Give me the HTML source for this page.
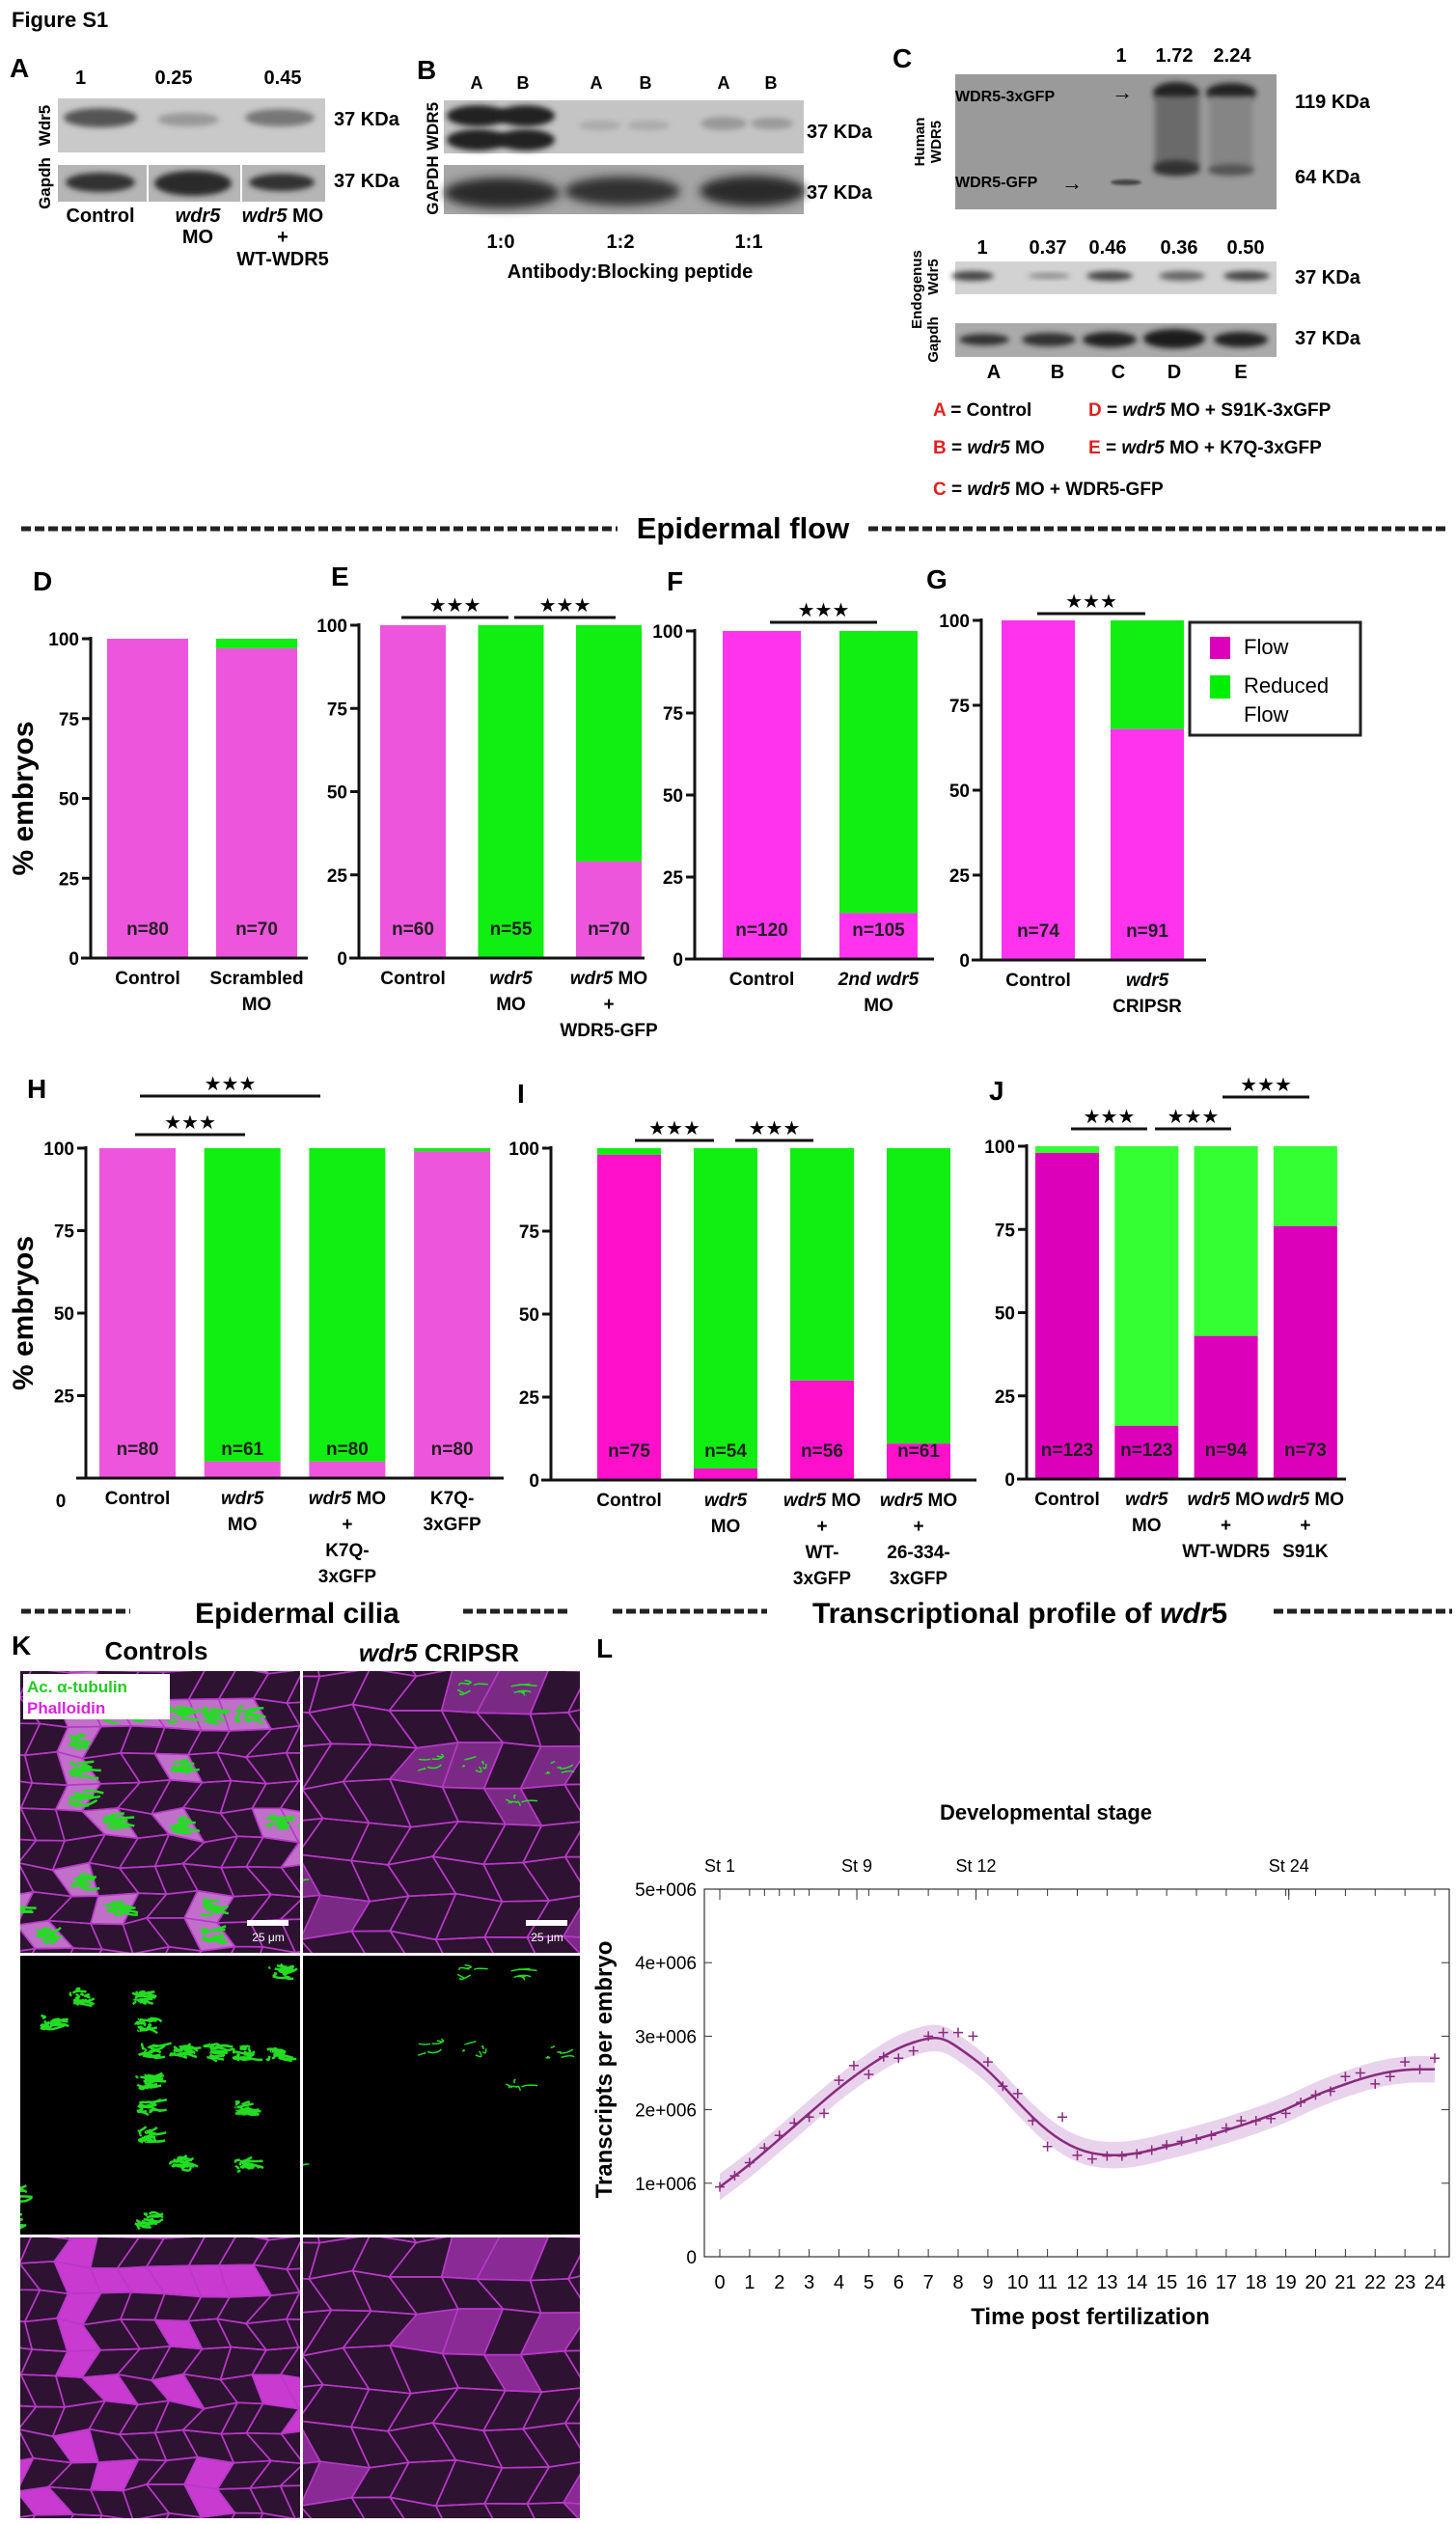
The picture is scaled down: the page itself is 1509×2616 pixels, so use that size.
<!DOCTYPE html>
<html><head><meta charset="utf-8">
<style>
html,body{margin:0;padding:0;background:#fff;}
svg{display:block;font-family:"Liberation Sans",sans-serif;}
.t{font-weight:bold;}
</style></head>
<body>
<svg id="root" width="1509" height="2616" viewBox="0 0 1509 2616" xmlns="http://www.w3.org/2000/svg">
<defs>
<filter id="blur3" x="-50%" y="-50%" width="200%" height="200%"><feGaussianBlur stdDeviation="3"/></filter>
<filter id="blur5" x="-50%" y="-50%" width="200%" height="200%"><feGaussianBlur stdDeviation="5"/></filter>
<filter id="blur1" x="-50%" y="-50%" width="200%" height="200%"><feGaussianBlur stdDeviation="1.2"/></filter>
</defs>
<text x="12" y="28" font-size="22" class="t">Figure S1</text>

<!-- Panel A -->
<g font-weight="bold">
<text x="10" y="80" font-size="28">A</text>
<text x="78" y="87" font-size="20">1</text>
<text x="180" y="87" font-size="20" text-anchor="middle">0.25</text>
<text x="293" y="87" font-size="20" text-anchor="middle">0.45</text>
<rect x="60" y="102" width="277" height="56" fill="#c9c9c9"/>
<ellipse cx="104" cy="122" rx="38" ry="10" fill="#555" filter="url(#blur3)"/>
<ellipse cx="195" cy="124" rx="32" ry="7" fill="#999" filter="url(#blur3)"/>
<ellipse cx="290" cy="122" rx="36" ry="9" fill="#777" filter="url(#blur3)"/>
<rect x="60" y="171" width="277" height="38" fill="#b5b5b5"/>
<ellipse cx="104" cy="189" rx="36" ry="10" fill="#333" filter="url(#blur3)"/>
<ellipse cx="200" cy="190" rx="40" ry="13" fill="#2a2a2a" filter="url(#blur3)"/>
<ellipse cx="292" cy="189" rx="34" ry="9" fill="#333" filter="url(#blur3)"/>
<line x1="153" y1="171" x2="153" y2="209" stroke="#fff" stroke-width="2"/>
<line x1="250" y1="171" x2="250" y2="209" stroke="#fff" stroke-width="2"/>
<text transform="translate(52,130) rotate(-90)" font-size="17" text-anchor="middle">Wdr5</text>
<text transform="translate(52,190) rotate(-90)" font-size="17" text-anchor="middle">Gapdh</text>
<text x="346" y="130" font-size="20">37 KDa</text>
<text x="346" y="194" font-size="20">37 KDa</text>
<text x="104" y="230" font-size="20" text-anchor="middle">Control</text>
<text x="205" y="230" font-size="20" text-anchor="middle"><tspan font-style="italic">wdr5</tspan></text>
<text x="205" y="252" font-size="20" text-anchor="middle">MO</text>
<text x="293" y="230" font-size="20" text-anchor="middle"><tspan font-style="italic">wdr5</tspan> MO</text>
<text x="293" y="252" font-size="20" text-anchor="middle">+</text>
<text x="293" y="275" font-size="20" text-anchor="middle">WT-WDR5</text>
</g>

<!-- Panel B -->
<g font-weight="bold">
<text x="432" y="82" font-size="28">B</text>
<g font-size="18" text-anchor="middle">
<text x="494" y="92">A</text><text x="542" y="92">B</text><text x="618" y="92">A</text><text x="669" y="92">B</text><text x="750" y="92">A</text><text x="799" y="92">B</text>
</g>
<rect x="460" y="104" width="373" height="55" fill="#c4c4c4"/>
<ellipse cx="495" cy="120" rx="32" ry="11" fill="#222" filter="url(#blur3)"/>
<ellipse cx="495" cy="145" rx="32" ry="11" fill="#222" filter="url(#blur3)"/>
<ellipse cx="545" cy="120" rx="30" ry="11" fill="#222" filter="url(#blur3)"/>
<ellipse cx="545" cy="145" rx="30" ry="11" fill="#222" filter="url(#blur3)"/>
<ellipse cx="622" cy="130" rx="22" ry="5" fill="#aaa" filter="url(#blur3)"/>
<ellipse cx="672" cy="130" rx="22" ry="5" fill="#aaa" filter="url(#blur3)"/>
<ellipse cx="750" cy="128" rx="24" ry="7" fill="#999" filter="url(#blur3)"/>
<ellipse cx="800" cy="128" rx="22" ry="6" fill="#999" filter="url(#blur3)"/>
<rect x="460" y="171" width="373" height="51" fill="#a5a5a5"/>
<ellipse cx="520" cy="200" rx="60" ry="16" fill="#2a2a2a" filter="url(#blur5)"/>
<ellipse cx="645" cy="198" rx="60" ry="15" fill="#333" filter="url(#blur5)"/>
<ellipse cx="780" cy="198" rx="55" ry="16" fill="#2a2a2a" filter="url(#blur5)"/>
<text transform="translate(454,131) rotate(-90)" font-size="17" text-anchor="middle">WDR5</text>
<text transform="translate(454,192) rotate(-90)" font-size="17" text-anchor="middle">GAPDH</text>
<text x="836" y="143" font-size="20">37 KDa</text>
<text x="836" y="206" font-size="20">37 KDa</text>
<text x="519" y="257" font-size="20" text-anchor="middle">1:0</text>
<text x="643" y="257" font-size="20" text-anchor="middle">1:2</text>
<text x="776" y="257" font-size="20" text-anchor="middle">1:1</text>
<text x="653" y="288" font-size="20" text-anchor="middle">Antibody:Blocking peptide</text>
</g>

<!-- Panel C -->
<g font-weight="bold">
<text x="925" y="70" font-size="28">C</text>
<text x="1162" y="64" font-size="20" text-anchor="middle">1</text>
<text x="1217" y="64" font-size="20" text-anchor="middle">1.72</text>
<text x="1277" y="64" font-size="20" text-anchor="middle">2.24</text>
<rect x="990" y="77" width="333" height="140" fill="#9a9a9a"/>
<ellipse cx="1219" cy="96" rx="24" ry="11" fill="#222" filter="url(#blur3)"/>
<ellipse cx="1276" cy="96" rx="26" ry="10" fill="#222" filter="url(#blur3)"/>
<rect x="1197" y="100" width="46" height="80" fill="#6a6a6a" filter="url(#blur3)"/>
<rect x="1254" y="100" width="44" height="80" fill="#858585" filter="url(#blur3)"/>
<ellipse cx="1219" cy="174" rx="24" ry="8" fill="#333" filter="url(#blur3)"/>
<ellipse cx="1276" cy="176" rx="24" ry="6" fill="#555" filter="url(#blur3)"/>
<ellipse cx="1167" cy="189" rx="16" ry="3" fill="#444" filter="url(#blur1)"/>
<text x="990" y="105" font-size="16">WDR5-3xGFP</text>
<text x="990" y="194" font-size="16">WDR5-GFP</text>
<text x="1152" y="103" font-size="22">→</text>
<text x="1100" y="197" font-size="22">→</text>
<text transform="translate(958,147) rotate(-90)" font-size="15" text-anchor="middle">Human</text>
<text transform="translate(975,147) rotate(-90)" font-size="15" text-anchor="middle">WDR5</text>
<text x="1342" y="112" font-size="20">119 KDa</text>
<text x="1342" y="190" font-size="20">64 KDa</text>
<g font-size="20" text-anchor="middle">
<text x="1018" y="263">1</text><text x="1086" y="263">0.37</text><text x="1148" y="263">0.46</text><text x="1222" y="263">0.36</text><text x="1291" y="263">0.50</text>
</g>
<rect x="990" y="271" width="333" height="34" fill="#d2d2d2"/>
<ellipse cx="1008" cy="286" rx="22" ry="5" fill="#444" filter="url(#blur3)"/>
<ellipse cx="1087" cy="286" rx="22" ry="3" fill="#888" filter="url(#blur3)"/>
<ellipse cx="1150" cy="286" rx="24" ry="5" fill="#444" filter="url(#blur3)"/>
<ellipse cx="1225" cy="286" rx="24" ry="5" fill="#666" filter="url(#blur3)"/>
<ellipse cx="1292" cy="286" rx="24" ry="5" fill="#444" filter="url(#blur3)"/>
<rect x="990" y="335" width="333" height="35" fill="#aaa"/>
<ellipse cx="1020" cy="352" rx="26" ry="6" fill="#333" filter="url(#blur3)"/>
<ellipse cx="1087" cy="352" rx="28" ry="7" fill="#333" filter="url(#blur3)"/>
<ellipse cx="1150" cy="352" rx="28" ry="8" fill="#222" filter="url(#blur3)"/>
<ellipse cx="1217" cy="351" rx="32" ry="10" fill="#1a1a1a" filter="url(#blur3)"/>
<ellipse cx="1286" cy="352" rx="28" ry="8" fill="#222" filter="url(#blur3)"/>
<text transform="translate(955,300) rotate(-90)" font-size="15" text-anchor="middle">Endogenus</text>
<text transform="translate(972,287) rotate(-90)" font-size="15" text-anchor="middle">Wdr5</text>
<text transform="translate(972,352) rotate(-90)" font-size="15" text-anchor="middle">Gapdh</text>
<text x="1342" y="294" font-size="20">37 KDa</text>
<text x="1342" y="357" font-size="20">37 KDa</text>
<g font-size="20" text-anchor="middle">
<text x="1030" y="392">A</text><text x="1096" y="392">B</text><text x="1159" y="392">C</text><text x="1217" y="392">D</text><text x="1286" y="392">E</text>
</g>
<g font-size="19">
<text x="967" y="431"><tspan fill="#e02020">A</tspan> = Control</text>
<text x="967" y="470"><tspan fill="#e02020">B</tspan> = <tspan font-style="italic">wdr5</tspan> MO</text>
<text x="967" y="513"><tspan fill="#e02020">C</tspan> = <tspan font-style="italic">wdr5</tspan> MO + WDR5-GFP</text>
<text x="1128" y="431"><tspan fill="#e02020">D</tspan> = <tspan font-style="italic">wdr5</tspan> MO + S91K-3xGFP</text>
<text x="1128" y="470"><tspan fill="#e02020">E</tspan> = <tspan font-style="italic">wdr5</tspan> MO + K7Q-3xGFP</text>
</g>
</g>

<!-- Section headers -->
<g stroke="#222" stroke-width="5" stroke-dasharray="10,4">
<line x1="22" y1="548" x2="640" y2="548"/>
<line x1="900" y1="548" x2="1500" y2="548"/>
<line x1="22" y1="1670" x2="135" y2="1670"/>
<line x1="480" y1="1670" x2="592" y2="1670"/>
<line x1="635" y1="1670" x2="795" y2="1670"/>
<line x1="1320" y1="1670" x2="1505" y2="1670"/>
</g>
<text x="770" y="558" font-size="31" class="t" text-anchor="middle">Epidermal flow</text>
<text x="308" y="1682" font-size="30" class="t" text-anchor="middle">Epidermal cilia</text>
<text x="1057" y="1682" font-size="30" class="t" text-anchor="middle">Transcriptional profile of <tspan font-style="italic">wdr</tspan>5</text>

<g id="bars"></g>

<!-- legend -->
<g>
<rect x="1233" y="645" width="177" height="117" fill="#fff" stroke="#222" stroke-width="3"/>
<rect x="1254" y="660" width="21" height="23" fill="#dd00bb"/>
<rect x="1254" y="700" width="21" height="24" fill="#00ee00"/>
<text x="1289" y="678" font-size="22">Flow</text>
<text x="1289" y="718" font-size="22">Reduced</text>
<text x="1289" y="748" font-size="22">Flow</text>
</g>

<!-- K -->
<text x="12" y="1715" font-size="28" class="t">K</text>
<text x="162" y="1720" font-size="26" class="t" text-anchor="middle">Controls</text>
<text x="455" y="1722" font-size="26" class="t" text-anchor="middle"><tspan font-style="italic">wdr5</tspan> CRIPSR</text>
<g id="micro"></g>

<!-- L -->
<text x="618" y="1718" font-size="28" class="t">L</text>
<g id="lchart"></g>
</svg>

<script>
const NS="http://www.w3.org/2000/svg";
function mk(tag,attrs,parent){const e=document.createElementNS(NS,tag);for(const k in attrs)e.setAttribute(k,attrs[k]);(parent||document.getElementById('root')).appendChild(e);return e;}

/* ---------- Flow bar chart data ---------- */
const catsD=["Control","Scrambled|MO"];
const flowD=[100,97];
const nD=["n=80","n=70"];
const catsE=["Control","<i>wdr5</i>|MO","<i>wdr5</i> MO|+|WDR5-GFP"];
const flowE=[100,0,29];
const nE=["n=60","n=55","n=70"];
const catsF=["Control","<i>2nd wdr5</i>|MO"];
const flowF=[100,14];
const nF=["n=120","n=105"];
const catsG=["Control","<i>wdr5</i>|CRIPSR"];
const flowG=[100,68];
const nG=["n=74","n=91"];
const catsH=["Control","<i>wdr5</i>|MO","<i>wdr5</i> MO|+|K7Q-|3xGFP","K7Q-|3xGFP"];
const flowH=[100,5,5,99];
const nH=["n=80","n=61","n=80","n=80"];
const catsI=["Control","<i>wdr5</i>|MO","<i>wdr5</i> MO|+|WT-|3xGFP","<i>wdr5</i> MO|+|26-334-|3xGFP"];
const flowI=[98,3.5,30,11];
const nI=["n=75","n=54","n=56","n=61"];
const catsJ=["Control","<i>wdr5</i>|MO","<i>wdr5</i> MO|+|WT-WDR5","<i>wdr5</i> MO|+|S91K"];
const flowJ=[98,16,43,76];
const nJ=["n=123","n=123","n=94","n=73"];
const yTicks=[0,25,50,75,100];

const charts=[
 {id:"d",label:"D",cats:catsD,flow:flowD,n:nD,ax:94,y0:993,y100:662,bx:111,bw:84,step:113,end:319,mag:"#ee55dd",grn:"#11ee11",lx:34,ly:612,sig:[],ylab:true},
 {id:"e",label:"E",cats:catsE,flow:flowE,n:nE,ax:372,y0:993,y100:648,bx:394,bw:68,step:101.5,end:668,mag:"#ee55dd",grn:"#11ee11",lx:343,ly:607,sig:[[0,1,640,416,527],[1,2,640,533,638]]},
 {id:"f",label:"F",cats:catsF,flow:flowF,n:nF,ax:720,y0:994,y100:654,bx:749,bw:81,step:121,end:968,mag:"#ff33ee",grn:"#11ee11",lx:691,ly:612,sig:[[0,1,645,798,909]]},
 {id:"g",label:"G",cats:catsG,flow:flowG,n:nG,ax:1017,y0:995,y100:643,bx:1038,bw:76,step:113,end:1250,mag:"#ff33ee",grn:"#11ee11",lx:960,ly:610,sig:[[0,1,636,1075,1187]]},
 {id:"h",label:"H",cats:catsH,flow:flowH,n:nH,ax:89,y0:1532,y100:1190,bx:103,bw:79,step:108.7,end:522,mag:"#ee55dd",grn:"#11ee11",lx:28,ly:1138,sig:[[0,2,1136,145,332],[0,1,1176,140,254]],ylab:true,hzero:true},
 {id:"i",label:"I",cats:catsI,flow:flowI,n:nI,ax:571,y0:1534,y100:1190,bx:619,bw:66,step:100,end:1012,mag:"#ff11cc",grn:"#11ee11",lx:536,ly:1143,sig:[[0,1,1182,658,740],[1,2,1182,762,843]]},
 {id:"j",label:"J",cats:catsJ,flow:flowJ,n:nJ,ax:1064,y0:1533,y100:1188,bx:1073,bw:66,step:82.3,end:1395,mag:"#dd00bb",grn:"#33ff33",lx:1025,ly:1140,sig:[[0,1,1170,1110,1189],[1,2,1170,1197,1276],[2,3,1137,1267,1357]]}
];
const barsG=document.getElementById('bars');
function lineHTML(s){return s.replace(/<i>/g,'<tspan font-style="italic">').replace(/<\/i>/g,'</tspan>');}
charts.forEach(c=>{
 const g=mk('g',{},barsG);
 
 
 const Y=v=>c.y0-(c.y0-c.y100)*v/100;
 const X=i=>c.bx+i*c.step;
 const lab=mk('text',{x:c.lx,y:c.ly,'font-size':28,'font-weight':'bold'},g);lab.textContent=c.label;
 
 
 c.cats.forEach((cat,i)=>{
  const fh=c.flow[i];
  const gr=mk('rect',{x:X(i),y:Y(100),width:c.bw,height:Y(fh)-Y(100),fill:c.grn},g);
  
  
  const mr=mk('rect',{x:X(i),y:Y(fh),width:c.bw,height:c.y0-Y(fh),fill:c.mag},g);
  
  
  const nt=mk('text',{x:X(i)+c.bw/2,y:c.y0-24,'font-size':19,'font-weight':'bold','text-anchor':'middle',fill:'#222'},g);
  nt.textContent=c.n[i];
  
  
  cat.split('|').forEach((ln,k)=>{
   const t=mk('text',{x:X(i)+c.bw/2,y:c.y0+27+k*27,'font-size':19,'font-weight':'bold','text-anchor':'middle'},g);
   t.innerHTML=lineHTML(ln);
   
   
  });
 });
 mk('line',{x1:c.ax,y1:c.y100-2,x2:c.ax,y2:c.y0,stroke:'#111','stroke-width':3},g);
 mk('line',{x1:c.ax-10,y1:c.y0,x2:c.end,y2:c.y0,stroke:'#111','stroke-width':3},g);
 yTicks.forEach(v=>{
  mk('line',{x1:c.ax-9,y1:Y(v),x2:c.ax,y2:Y(v),stroke:'#111','stroke-width':3},g);
  if(c.hzero&&v===0){const z=mk('text',{x:63,y:1562,'font-size':19,'font-weight':'bold','text-anchor':'middle'},g);z.textContent='0';return;}
  const t=mk('text',{x:c.ax-12,y:Y(v)+7,'font-size':19,'font-weight':'bold','text-anchor':'end'},g);
  t.textContent=v;
  
  
 });
 c.sig.forEach(s=>{
  mk('line',{x1:s[3],y1:s[2],x2:s[4],y2:s[2],stroke:'#111','stroke-width':3},g);
  const st=mk('text',{x:(s[3]+s[4])/2,y:s[2]-6,'font-size':20,'text-anchor':'middle'},g);
  st.textContent='★★★';
  
  
 });
 if(c.ylab){
  const cy=(c.y0+c.y100)/2;
  const t=mk('text',{transform:`translate(34,${cy}) rotate(-90)`,'font-size':30,'font-weight':'bold','text-anchor':'middle'},g);
  t.textContent='% embryos';
  
  
 }
});

/* ---------- Micrographs (decorative texture) ---------- */
let seed=7;function rnd(){seed=(seed*16807)%2147483647;return seed/2147483647;}
const micro=document.getElementById('micro');
const panels=[
 {x:21,y:1732,w:290,h:292,cell:34,type:'merge',cil:true},
 {x:314,y:1732,w:287,h:292,cell:46,type:'merge',cil:false},
 {x:21,y:2027,w:290,h:289,cell:34,type:'green',cil:true},
 {x:314,y:2027,w:287,h:289,cell:46,type:'green',cil:false},
 {x:21,y:2319,w:290,h:291,cell:34,type:'mag',cil:true},
 {x:314,y:2319,w:287,h:291,cell:46,type:'mag',cil:false}
];
panels.forEach((p,pi)=>{
 seed=p.cil?11:29;
 const g=mk('g',{},micro);
 
 
 const cp=mk('clipPath',{id:'cp'+pi},g);mk('rect',{x:p.x,y:p.y,width:p.w,height:p.h},cp);
 const inner=mk('g',{'clip-path':'url(#cp'+pi+')'},g);
 mk('rect',{x:p.x,y:p.y,width:p.w,height:p.h,fill:p.type==='green'?'#000':'#2e1232'},inner);
 const s=p.cell,cols=Math.ceil(p.w/s)+3,rows=Math.ceil(p.h/(s*0.85))+3,pts=[];
 for(let r=0;r<rows;r++){pts[r]=[];for(let q=0;q<cols;q++){pts[r][q]=[p.x+(q-1+(r%2)*0.5)*s+(rnd()-0.5)*s*0.3,p.y+(r-1)*s*0.85+(rnd()-0.5)*s*0.25];}}
 const centers=[];
 for(let r=0;r<rows-1;r++)for(let q=0;q<cols-1;q++){
  const a=pts[r][q],b=pts[r][q+1],c2=pts[r+1][q+1],d=pts[r+1][q];
  const filled=rnd()<(p.cil?0.17:0.1);
  if(filled)centers.push([(a[0]+b[0]+c2[0]+d[0])/4,(a[1]+b[1]+c2[1]+d[1])/4]);
  if(p.type!=='green'){
   mk('polygon',{points:[a,b,c2,d].map(v=>v.join(',')).join(' '),fill:filled?(p.type==='mag'?(p.cil?'#c83ad0':'#8a2a95'):(p.cil?'#c070c8':'#7a2a85')):'none',stroke:'#b838c8','stroke-width':1.6},inner);
  }
 }
 if(p.type!=='mag'){
  const n=p.cil?centers.length:Math.round(centers.length*0.7);
  for(let k=0;k<n;k++){
   const c=centers[k];
   for(let m=0;m<(p.cil?16:5);m++){
    const x0=c[0]+(rnd()-0.5)*s*0.5,y0=c[1]+(rnd()-0.5)*s*0.4;
    mk('path',{d:`M${x0},${y0} q${(rnd()-0.2)*14},${(rnd()-0.5)*10} ${(rnd()-0.1)*22},${(rnd()-0.5)*8}`,stroke:'#22dd22',fill:'none','stroke-width':p.cil?2.5:1.5},inner);
   }
  }
 }
});
const lg=mk('g',{},micro);
mk('rect',{x:24,y:1735,width:152,height:47,fill:'#fff'},lg);
const l1=mk('text',{x:28,y:1754,'font-size':17,'font-weight':'bold',fill:'#22cc22'},lg);l1.textContent='Ac. α-tubulin';


const l2=mk('text',{x:28,y:1776,'font-size':17,'font-weight':'bold',fill:'#dd22dd'},lg);l2.textContent='Phalloidin';


[[256,1990],[545,1990]].forEach(s=>{mk('rect',{x:s[0],y:s[1],width:43,height:6,fill:'#fff'},lg);const t=mk('text',{x:s[0]+22,y:s[1]+22,'font-size':12,fill:'#fff','text-anchor':'middle'},lg);t.textContent='25 μm';

});

/* ---------- Panel L: transcript profile ---------- */
const curveHours=[0,1,2,3,4,5,6,7,7.5,8,9,10,11,12,13,14,15,16,17,18,19,20,21,22,23,24];
const curveVals=[0.95,1.25,1.6,1.95,2.3,2.6,2.85,2.98,2.97,2.85,2.55,2.1,1.7,1.45,1.37,1.4,1.5,1.6,1.72,1.85,2.0,2.2,2.35,2.48,2.55,2.55];
const pointHours=[0,0.5,1,1.5,2,2.5,3,3.5,4,4.5,5,5.5,6,6.5,7,7.5,8,8.5,9,9.5,10,10.5,11,11.5,12,12.5,13,13.5,14,14.5,15,15.5,16,16.5,17,17.5,18,18.5,19,19.5,20,20.5,21,21.5,22,22.5,23,23.5,24];
const pointVals=[0.95,1.1,1.28,1.48,1.65,1.82,1.9,1.95,2.4,2.6,2.48,2.72,2.7,2.8,3.0,3.05,3.05,3.0,2.65,2.32,2.22,1.85,1.5,1.9,1.38,1.33,1.37,1.37,1.4,1.45,1.52,1.57,1.6,1.65,1.75,1.85,1.85,1.88,1.95,2.1,2.2,2.25,2.45,2.5,2.35,2.45,2.65,2.55,2.7];
const yTickVals=[0,1,2,3,4,5];
const yTickLabels=["0","1e+006","2e+006","3e+006","4e+006","5e+006"];
const xTickVals=[0,1,2,3,4,5,6,7,8,9,10,11,12,13,14,15,16,17,18,19,20,21,22,23,24];
const stageNames=["St 1","St 9","St 12","St 24"];
const stageHours=[0,4.6,8.6,19.1];
const minorTopHours=[0,1,1.5,2,2.5,3,4,4.6,5,6,7,8,8.6,9,10,11,12,13,14,15,16,17,18,19,19.1,20,21,22,23,24];
(function(){
 const L=document.getElementById('lchart');
 const bx0=730,bx1=1502,by0=2339,by1=1958;
 const X=h=>746+h*(1487-746)/24;
 const Y=v=>by0-(by0-by1)*v/5;
 mk('rect',{x:bx0,y:by1,width:bx1-bx0,height:by0-by1,fill:'none',stroke:'#333','stroke-width':1.2},L);
 const up=curveHours.map((h,i)=>[X(h),Y(curveVals[i]+0.18)]);
 const dn=curveHours.map((h,i)=>[X(h),Y(curveVals[i]-0.18)]).reverse();
 function smooth(arr){let d=`M${arr[0][0]},${arr[0][1]}`;for(let i=1;i<arr.length;i++){const p0=arr[i-1],p1=arr[i];const mx=(p0[0]+p1[0])/2,my=(p0[1]+p1[1])/2;d+=` Q${p0[0]},${p0[1]} ${mx},${my}`;}const l=arr[arr.length-1];d+=` L${l[0]},${l[1]}`;return d;}
 const band=mk('path',{d:smooth(up)+' L'+dn[0][0]+','+dn[0][1]+smooth(dn).replace(/^M/,' L')+' Z',fill:'#e9d3ec'},L);
 
 
 const line=mk('path',{d:smooth(curveHours.map((h,i)=>[X(h),Y(curveVals[i])])),fill:'none',stroke:'#8a2a7f','stroke-width':2.5},L);
 
 
 pointHours.forEach((h,i)=>{
  const x=X(h),y=Y(pointVals[i]);
  const p=mk('path',{d:`M${x-5},${y}h10M${x},${y-5}v10`,stroke:'#8a2a7f','stroke-width':1.5},L);
  
  
 });
 yTickVals.forEach((v,i)=>{
  mk('line',{x1:bx0,y1:Y(v),x2:bx0+8,y2:Y(v),stroke:'#333'},L);
  mk('line',{x1:bx1-8,y1:Y(v),x2:bx1,y2:Y(v),stroke:'#333'},L);
  const t=mk('text',{x:bx0-8,y:Y(v)+7,'font-size':19,'text-anchor':'end'},L);t.textContent=yTickLabels[i];
  
  
 });
 xTickVals.forEach(h=>{
  mk('line',{x1:X(h),y1:by0,x2:X(h),y2:by0-8,stroke:'#333'},L);
  const t=mk('text',{x:X(h),y:by0+33,'font-size':20,'text-anchor':'middle'},L);t.textContent=h;
  
  
 });
 minorTopHours.forEach(h=>{mk('line',{x1:X(h),y1:by1,x2:X(h),y2:by1+7,stroke:'#333'},L);});
 stageNames.forEach((s,i)=>{
  mk('line',{x1:X(stageHours[i]),y1:by1,x2:X(stageHours[i]),y2:by1+11,stroke:'#333'},L);
  const t=mk('text',{x:X(stageHours[i]),y:1940,'font-size':18,'text-anchor':'middle'},L);t.textContent=s;
  
  
 });
 const t1=mk('text',{x:1084,y:1886,'font-size':22,'font-weight':'bold','text-anchor':'middle'},L);t1.textContent='Developmental stage';
 
 
 const t2=mk('text',{x:1130,y:2409,'font-size':24,'font-weight':'bold','text-anchor':'middle'},L);t2.textContent='Time post fertilization';
 
 
 const t3=mk('text',{transform:'translate(634,2145) rotate(-90)','font-size':24,'font-weight':'bold','text-anchor':'middle'},L);t3.textContent='Transcripts per embryo';
 
 
})();
</script>
</body></html>
